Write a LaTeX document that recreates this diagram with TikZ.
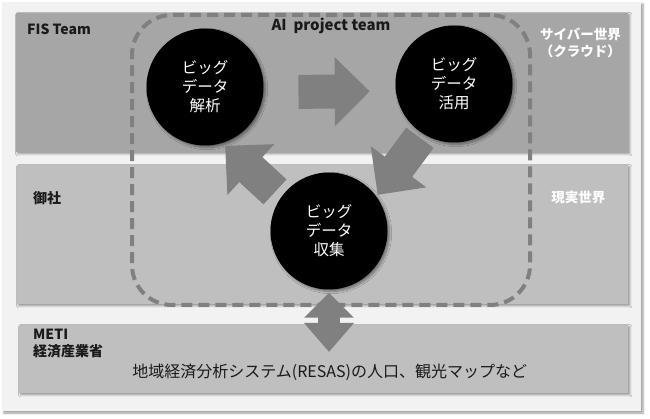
\documentclass[tikz,border=0pt]{standalone}
\usepackage{fontspec}
\setmainfont{Noto Sans CJK JP}
\usepackage{xcolor}
\definecolor{framebg}{HTML}{F2F2F2}
\definecolor{cyberband}{HTML}{A6A6A6}
\definecolor{realband}{HTML}{BFBFBF}
\definecolor{arrowgray}{HTML}{808080}
\definecolor{labeldark}{HTML}{1A1A1A}
\usepackage{tikz}
\usetikzlibrary{arrows.meta,positioning,shadows.blur}

\begin{document}
\begin{tikzpicture}[x=1pt, y=-1pt,
    band/.style={anchor=north west, inner sep=0pt,
        blur shadow={shadow xshift=1.5pt, shadow yshift=-1.5pt, shadow blur steps=4}},
    bigdata/.style={circle, fill=black, minimum size=117pt, inner sep=0pt, text=white,
        align=center, font=\fontsize{15.5}{19}\selectfont,
        blur shadow={shadow xshift=2pt, shadow yshift=-2pt, shadow blur steps=5}},
    sidelabel/.style={anchor=west, inner sep=0pt, align=left, text=labeldark,
        font=\bfseries\fontsize{14}{17}\selectfont},
    worldlabel/.style={inner sep=0pt, align=center, text=white,
        font=\bfseries\fontsize{13.5}{17}\selectfont},
    teambox/.style={anchor=north west, draw=arrowgray, line width=4pt,
        dash pattern=on 11pt off 6pt, rounded corners=40pt},
    blockarrow/.style={arrowgray, line width=34pt, -{Triangle[width=67pt, length=35pt]}},
    dblarrow/.style={arrowgray, line width=22pt,
        {Triangle[width=48pt, length=25pt]}-{Triangle[width=48pt, length=29pt]}}]

    \useasboundingbox (0,0) rectangle (650,419);
    \fill[framebg, blur shadow={shadow xshift=2pt, shadow yshift=-2pt, shadow blur steps=4}]
        (2,2) rectangle (641,411);

    \node[band, fill=cyberband, minimum width=612pt, minimum height=139pt] (fis) at (16,13) {};
    \node[band, fill=realband, minimum width=611pt, minimum height=139pt] (onsha) at (17,165) {};
    \node[band, fill=realband, minimum width=609pt, minimum height=68pt] (meti) at (19,325) {};

    \node[sidelabel] (fislbl) at ([xshift=11pt, yshift=-16pt]fis.north west) {FIS Team};
    \node[sidelabel] (onshalbl) at ([xshift=16pt, yshift=-33pt]onsha.north west) {御社};
    \node[sidelabel] (metilbl) at ([xshift=14pt, yshift=-18.5pt]meti.north west) {METI\\経済産業省};
    \node[worldlabel] (cyberlbl) at ([xshift=-48pt, yshift=-30pt]fis.north east) {サイバー世界\\（クラウド）};
    \node[worldlabel] (reallbl) at ([xshift=-50pt, yshift=-32pt]onsha.north east) {現実世界};
    \node[inner sep=0pt, font=\fontsize{16}{19}\selectfont, text=labeldark] (resas)
        at ([xshift=6pt, yshift=-13pt]meti.center) {地域経済分析システム(RESAS)の人口、観光マップなど};

    \node[teambox, minimum width=398pt, minimum height=290pt] (team) at (130,13) {};
    \node[sidelabel, anchor=center, font=\bfseries\fontsize{15}{17}\selectfont] (teamlbl)
        at ([yshift=-13pt]team.north) {AI\ \ project team};

    \node[bigdata] (analysis) at (205,87) {ビッグ\\データ\\解析};
    \node[bigdata] (use) at (454,84) {ビッグ\\データ\\活用};
    \node[bigdata] (collect) at (329,231) {ビッグ\\データ\\収集};

    \draw[blockarrow, shorten <=35pt, shorten >=26pt] (analysis.-5) -- (use.187);
    \draw[blockarrow, shorten <=5pt, shorten >=2pt] (use.238) -- (collect.36);
    \draw[blockarrow, shorten <=8pt, shorten >=4pt] (collect.145) -- (analysis.287);
    \draw[dblarrow, shorten <=3pt, shorten >=-27pt] (collect.south) -- (collect.south |- meti.north);

\end{tikzpicture}
\end{document}
